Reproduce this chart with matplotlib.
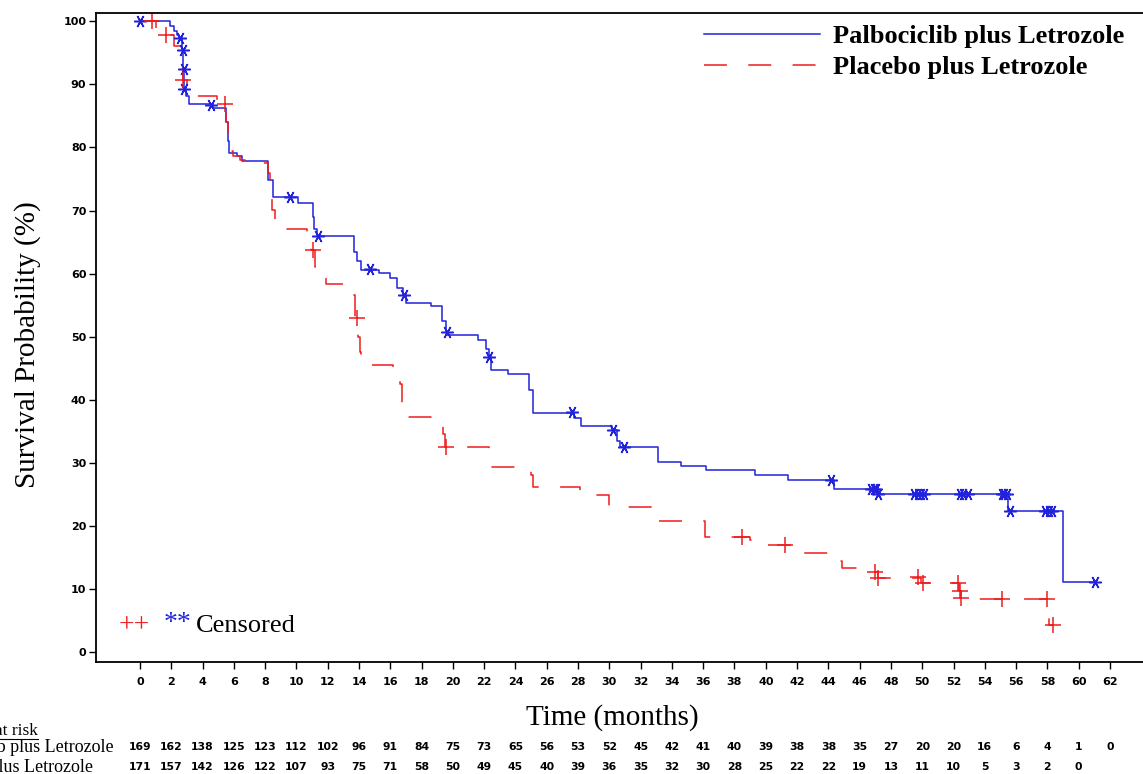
import numpy as np
import matplotlib
matplotlib.use('Agg')
import matplotlib.pyplot as plt
from matplotlib.lines import Line2D
from matplotlib.transforms import blended_transform_factory

# Palbociclib plus Letrozole: step times / survival after step (%)
palbo_t = [0, 1.95, 2.2, 2.35, 2.5, 2.7, 2.78, 2.82, 2.95, 3.15, 4.7, 5.5, 5.6, 5.7, 6.2, 6.55,
           8.2, 8.5, 10.1, 11.05, 11.15, 11.3, 13.7, 13.9, 14.15, 15.3, 15.95, 16.4, 16.8, 17.0,
           18.6, 19.3, 19.55, 19.65, 21.6, 22.1, 22.3, 22.45, 23.5, 24.85, 25.1, 27.75, 28.2,
           30.2, 30.5, 30.7, 33.1, 34.6, 36.2, 39.3, 41.4, 44.35, 47.15, 55.45, 59.0, 61.05]
palbo_s = [100, 99.2, 98.4, 97.8, 97.3, 95.5, 92.4, 89.2, 88.1, 86.9, 86.2, 84.0, 81.0, 79.1, 78.6, 77.8,
           74.9, 72.2, 71.2, 69.0, 67.0, 65.9, 63.5, 62.0, 60.6, 60.1, 59.3, 57.7, 56.6, 55.4,
           54.8, 52.5, 50.8, 50.2, 49.5, 48.0, 46.8, 44.7, 44.1, 41.6, 37.9, 37.1, 35.8,
           35.2, 33.5, 32.5, 30.2, 29.5, 28.8, 28.0, 27.3, 25.8, 25.1, 22.3, 11.1, 11.1]
palbo_cens_t = [0, 2.56, 2.73, 2.79, 2.83, 4.52, 9.59, 11.4, 14.7, 16.9, 19.6, 22.33, 27.6, 30.25,
                30.95, 44.2, 46.7, 46.9, 47.05, 47.2, 49.5, 49.7, 49.9, 50.1, 52.4, 52.6, 52.9,
                55.1, 55.25, 55.4, 55.6, 57.85, 58.1, 58.27, 61.04]
palbo_cens_s = [100, 97.3, 95.5, 92.4, 89.2, 86.7, 72.2, 65.9, 60.7, 56.6, 50.8, 46.8, 38.0, 35.2,
                32.5, 27.3, 25.9, 25.9, 25.9, 25.1, 25.1, 25.1, 25.1, 25.1, 25.1, 25.1, 25.1,
                25.1, 25.1, 25.1, 22.3, 22.3, 22.3, 22.3, 11.1]

# Placebo plus Letrozole
plac_t = [0, 1.0, 2.2, 2.6, 2.75, 3.0, 4.9, 5.5, 5.6, 5.75, 5.95, 6.4, 7.5, 8.2, 8.3, 8.45, 8.63,
          10.65, 10.9, 11.2, 11.4, 11.9, 13.6, 13.75, 13.95, 14.05, 14.15, 16.2, 16.6, 16.75, 16.85,
          18.6, 19.4, 19.5, 22.3, 22.5, 25.0, 25.15, 28.1, 30.0, 32.9, 36.1, 39.0, 39.35, 41.6,
          44.3, 44.9, 47.0, 47.2, 49.95, 52.35, 52.45, 58.1, 58.35]
plac_s = [100, 97.9, 96.1, 93.5, 90.7, 88.1, 87.0, 84.0, 81.0, 79.5, 78.6, 78.0, 77.5, 75.9, 73.8, 70.1, 67.0,
          66.0, 63.8, 61.0, 59.5, 58.4, 56.6, 53.0, 50.0, 47.5, 45.5, 44.8, 42.5, 39.5, 37.2,
          35.8, 34.5, 32.5, 30.7, 29.4, 28.0, 26.1, 24.9, 23.0, 20.8, 18.3, 17.8, 17.0, 15.65,
          14.5, 13.3, 12.7, 11.8, 11.0, 9.7, 8.4, 4.3, 4.3]
plac_cens_t = [0.75, 1.66, 2.77, 5.43, 11.08, 13.85, 19.55, 38.5, 41.25, 47.0, 47.2, 49.7, 50.05,
               52.3, 52.4, 52.5, 55.1, 57.95, 58.35]
plac_cens_s = [100, 97.9, 90.7, 86.9, 63.8, 52.9, 32.5, 18.3, 17.0, 12.7, 11.8, 11.95, 11.0,
               11.0, 9.7, 8.5, 8.4, 8.4, 4.3]

# numbers at risk, every 2 months
risk_times = list(range(0, 64, 2))
risk_palbo = [169, 162, 138, 125, 123, 112, 102, 96, 91, 84, 75, 73, 65, 56, 53, 52, 45, 42, 41, 40,
              39, 38, 38, 35, 27, 20, 20, 16, 6, 4, 1, 0]
risk_plac = [171, 157, 142, 126, 122, 107, 93, 75, 71, 58, 50, 49, 45, 40, 39, 36, 35, 32, 30, 28,
             25, 22, 22, 19, 13, 11, 10, 5, 3, 2, 0]

blue = '#2222dd'
red = '#ee1c1c'
serif = ['Liberation Serif', 'DejaVu Serif']

fig = plt.figure(figsize=(11.43, 7.74), dpi=100)
W, H = 1143, 774
ax = fig.add_axes([96 / W, (H - 662) / H, 1 - 96 / W, (662 - 12.5) / H])

ax.step(palbo_t, palbo_s, where='post', color=blue, lw=1.1, label='Palbociclib plus Letrozole')
ax.step(plac_t, plac_s, where='post', color=red, lw=1.1, dashes=(15, 14),
        label='Placebo plus Letrozole')
ax.plot(palbo_cens_t, palbo_cens_s, ls='none', marker=(6, 2, 30), ms=9, mew=1.1, color=blue)
ax.plot(plac_cens_t, plac_cens_s, ls='none', marker='+', ms=11, mew=1.1, color=red)

ax.set_xlim(-2.81, 64.11)
ax.set_ylim(-1.59, 101.4)
ax.set_xticks(range(0, 64, 2))
ax.set_yticks(range(0, 101, 10))
ax.spines['right'].set_visible(False)
for s in ['left', 'bottom', 'top']:
    ax.spines[s].set_linewidth(1.3)
ax.tick_params(direction='out', length=5, width=1, labelsize=8)
ax.tick_params(axis='y', pad=2)
ax.tick_params(axis='x', pad=6)
for lab in ax.get_xticklabels() + ax.get_yticklabels():
    lab.set_fontweight('bold')

fig.text(28 / W, 1 - 345 / H, 'Survival Probability (%)', family=serif, fontsize=21,
         rotation=90, ha='center', va='center')

leg = ax.legend(loc='upper right', bbox_to_anchor=(1.0, 1.01), frameon=False, handlelength=4.4,
                handletextpad=0.5, prop={'family': serif, 'size': 19, 'weight': 'bold'},
                borderaxespad=0.3, labelspacing=0.3)

# censored note
ax.text(0.022, 0.055, '++', color=red, fontsize=20, family=serif, transform=ax.transAxes, va='center')
ax.text(0.065, 0.06, '**', color=blue, fontsize=20, family=serif, transform=ax.transAxes, va='center')
ax.text(0.095, 0.055, 'Censored', color='black', fontsize=19, family=serif, transform=ax.transAxes,
        va='center')

fig.text(612 / W, 1 - 718 / H, 'Time (months)', family=serif, fontsize=21, ha='center', va='center')

# numbers at risk table (left edge of row labels is cut off in the source)
fig.text(38 / W, 1 - 731 / H, 'No. at risk', family=serif, fontsize=12.5, ha='right', va='center')
fig.add_artist(Line2D([0, 38 / W], [1 - 739 / H, 1 - 739 / H], color='black', lw=0.8))
fig.text(114 / W, 1 - 747 / H, 'Palbociclib plus Letrozole', family=serif, fontsize=13, ha='right',
         va='center')
fig.text(93 / W, 1 - 767 / H, 'Placebo plus Letrozole', family=serif, fontsize=13, ha='right',
         va='center')
tr = blended_transform_factory(ax.transData, fig.transFigure)
for t, n in zip(risk_times, risk_palbo):
    ax.text(t, 1 - 747 / H, str(n), transform=tr, ha='center', va='center', fontsize=7.8,
            fontweight='bold', clip_on=False)
for t, n in zip(risk_times, risk_plac):
    ax.text(t, 1 - 767 / H, str(n), transform=tr, ha='center', va='center', fontsize=7.8,
            fontweight='bold', clip_on=False)

fig.savefig('out.png', dpi=100)
